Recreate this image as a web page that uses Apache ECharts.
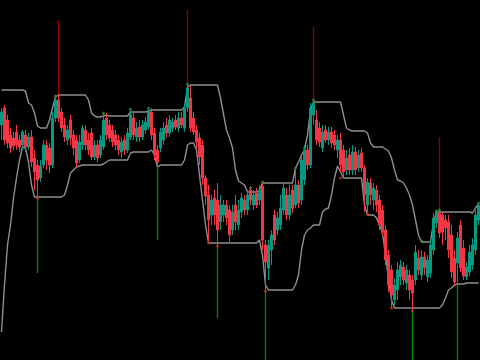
<!DOCTYPE html>
<html>
<head>
<meta charset="utf-8">
<style>html,body{margin:0;padding:0;background:#000;}#c{width:480px;height:360px;}</style>
<script src="https://cdn.jsdelivr.net/npm/echarts@6/dist/echarts.min.js"></script>
</head>
<body>
<div id="c"></div>
<script>
// Price values are expressed on an inverted scale (0 at top, 360 at bottom)
const opens = [125,108,120,135,138,132,140,145,135,147,
137,158,165,178,165,145,148,165,118,100,
112,125,140,120,135,140,160,145,130,140,
133,157,145,155,147,118,125,130,135,140,
152,140,150,137,118,137,127,137,130,127,
112,133,150,148,140,125,133,128,120,128,
118,128,108,98,118,130,138,145,178,195,
215,198,200,222,215,205,210,230,205,225,
212,200,210,190,205,193,200,186,245,268,
250,215,230,225,210,195,215,190,205,185,
200,180,150,165,115,120,128,148,130,140,
132,135,150,140,150,170,155,170,152,168,
153,168,205,183,200,190,200,210,230,255,
270,300,290,277,267,283,275,280,280,258,
275,257,277,273,250,223,213,215,220,222,
235,258,263,225,248,277,272,265,250,220];
const closes = [112,140,143,148,146,145,147,132,147,137,
162,172,180,166,145,160,165,118,100,118,
128,137,130,138,148,163,142,128,145,150,
157,145,158,140,120,135,138,142,145,150,
142,150,133,115,135,128,137,125,122,112,
135,155,162,132,128,133,120,122,127,118,
125,108,88,128,132,142,157,178,196,220,
200,215,230,205,205,218,235,212,222,210,
198,210,195,200,195,205,190,240,262,245,
235,240,218,208,188,215,195,208,185,203,
160,150,165,108,103,140,142,132,140,132,
143,145,140,165,172,158,170,152,170,155,
168,195,182,195,188,205,225,232,260,285,
295,285,270,265,280,270,290,293,252,270,
257,268,260,245,218,212,233,232,228,250,
272,282,238,268,276,267,252,245,215,205];
const highs = [108,105,115,128,132,125,135,130,130,133,
130,150,160,160,140,140,143,112,95,94,
108,118,125,115,130,135,135,125,125,133,
128,140,140,135,113,113,120,125,130,135,
137,135,128,109,112,122,120,120,117,108,
108,128,145,128,122,118,115,118,115,112,
112,104,84,86,112,125,133,140,175,185,
195,190,183,195,200,200,205,205,195,200,
193,195,190,186,190,188,185,182,240,240,
230,210,212,195,183,188,185,185,168,180,
155,145,145,103,100,110,122,125,125,127,
127,130,135,133,145,150,148,145,147,150,
148,165,178,178,183,185,195,205,225,250,
265,278,262,260,262,265,270,275,245,250,
250,252,255,240,213,210,210,212,215,215,
225,250,232,220,240,262,245,238,210,203];
const lows = [140,145,148,153,150,150,152,150,152,150,
167,190,197,182,168,170,173,168,122,122,
132,142,145,145,155,167,163,150,150,155,
160,160,162,158,150,140,142,147,150,155,
158,155,153,140,140,142,142,140,134,130,
140,160,167,152,145,138,137,132,130,132,
128,132,112,132,135,148,165,185,205,242,
225,225,245,230,222,225,242,235,230,230,
218,215,215,205,210,208,205,250,290,280,
265,245,235,230,215,220,220,213,208,208,
205,185,170,168,125,145,147,152,143,145,
148,150,158,172,178,175,175,175,175,172,
172,212,212,205,210,212,230,235,265,292,
308,305,300,285,285,290,300,310,285,275,
280,275,282,278,255,228,238,245,240,258,
278,285,285,272,280,280,276,270,255,225];
const upperBand = [90,90,90,90,90,90,90,90,91,103,105,113,126,128,128,128,120,108,97,95,
95,95,95,95,95,95,95,95,95,100,113,116,117,117,116,115,116,116,116,116,
116,116,116,112,112,112,112,112,112,111,110,110,110,110,110,110,110,110,110,110,
110,107,87,85,85,85,85,85,85,85,85,85,85,98,114,130,138,148,170,181,
183,185,192,192,192,192,190,183,183,183,183,183,183,183,183,183,183,183,168,162,
155,150,135,110,102,102,102,102,102,102,102,102,102,102,115,128,130,131,131,131,
131,131,133,143,147,147,147,147,149,151,158,170,180,181,183,188,195,205,220,235,
242,242,242,242,222,212,212,212,212,212,212,212,212,212,212,212,212,213,208,204];
const lowerBand = [332,285,245,225,198,178,160,147,148,162,185,197,197,197,197,197,197,197,197,197,
197,195,185,173,170,167,166,165,165,165,165,165,165,165,164,162,160,160,160,160,
160,160,160,153,152,152,152,152,152,152,150,155,167,165,165,165,165,165,165,165,
165,160,145,143,143,150,175,200,225,243,243,243,243,243,243,243,243,243,243,243,
243,243,243,243,243,243,240,255,285,290,290,290,290,290,290,290,290,290,285,275,
250,235,230,228,225,225,225,212,209,208,195,178,166,172,178,178,178,178,178,178,
178,205,215,215,215,218,225,233,255,280,300,308,308,308,308,308,308,308,308,308,
308,308,308,308,308,308,308,305,298,290,288,285,284,284,284,283,283,283,283,283];
// spikes: [index, from, to, 1 = up (red) / 0 = down (green)]
const spikes = [[12,197,273,0],[19,94,20,1],[52,167,240,0],[62,84,10,1],[72,245,318,0],
[88,290,360,0],[104,100,27,1],[137,310,360,0],[146,210,137,1],[152,285,360,0]];
const highDots = [[18,96],[34,113],[43,109],[49,108],[62,84],[83,188],[87,182],[98,168],[101,148],[104,100],[140,241],[145,211],[146,210],[159,203]];
const lowDots = [[12,198],[69,243],[72,246],[88,291],[113,178],[122,214],[127,233],[130,308],[137,311]];

const cats = opens.map((_, i) => i);
const candleData = opens.map((o, i) => [o, closes[i], highs[i], lows[i]]);

const chart = echarts.init(document.getElementById('c'), null, {renderer: 'canvas'});
chart.setOption({
  backgroundColor: '#000000',
  animation: false,
  grid: {left: 0, right: 0, top: 0, bottom: 0},
  xAxis: {type: 'category', data: cats, show: false, boundaryGap: true},
  yAxis: {type: 'value', min: 0, max: 360, inverse: true, show: false},
  series: [
    {type: 'line', data: upperBand, symbol: 'none', lineStyle: {color: '#8f8f8f', width: 1.4}, z: 1},
    {type: 'line', data: lowerBand, symbol: 'none', lineStyle: {color: '#8f8f8f', width: 1.4}, z: 1},
    {type: 'candlestick', data: candleData, barWidth: 2, z: 2,
      itemStyle: {color: '#f23645', color0: '#089981', borderColor: '#f23645', borderColor0: '#089981', borderWidth: 1}},
    {type: 'custom', data: spikes, z: 3, encode: {x: 0, y: [1, 2]},
      renderItem: function (params, api) {
        const p1 = api.coord([api.value(0), api.value(1)]);
        const p2 = api.coord([api.value(0), api.value(2)]);
        return {type: 'line', shape: {x1: p1[0], y1: p1[1], x2: p2[0], y2: p2[1]},
          style: {stroke: api.value(3) === 1 ? '#8e0000' : '#008a00', lineWidth: 1.3}};
      }},
    {type: 'scatter', data: highDots, symbolSize: 3, itemStyle: {color: '#2e8b2e'}, z: 4},
    {type: 'scatter', data: lowDots, symbolSize: 3, itemStyle: {color: '#c8321e'}, z: 4}
  ]
});
</script>
</body>
</html>
